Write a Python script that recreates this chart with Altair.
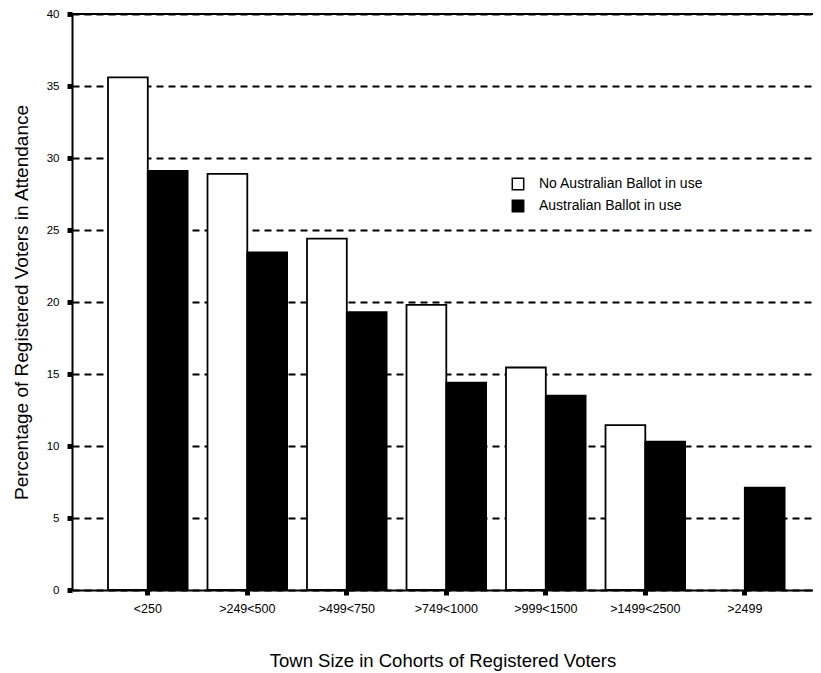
import altair as alt
import pandas as pd

categories = ["<250", ">249<500", ">499<750", ">749<1000", ">999<1500", ">1499<2500", ">2499"]
series = ["No Australian Ballot in use", "Australian Ballot in use"]
no_ballot = [35.6, 28.9, 24.4, 19.8, 15.45, 11.45, None]
ballot = [29.1, 23.45, 19.3, 14.4, 13.5, 10.3, 7.1]

rows = []
for c, a, b in zip(categories, no_ballot, ballot):
    if a is not None:
        rows.append({"cat": c, "series": series[0], "value": a})
    if b is not None:
        rows.append({"cat": c, "series": series[1], "value": b})
df = pd.DataFrame(rows)

FONT = "Liberation Sans"

bars = alt.Chart(df).mark_bar(stroke="black", strokeWidth=1.8).encode(
    x=alt.X("cat:N", sort=categories,
            scale=alt.Scale(paddingInner=0.2, paddingOuter=0.3236, align=0.559),
            axis=alt.Axis(title="Town Size in Cohorts of Registered Voters",
                          labelAngle=0, labelFontSize=12.5, labelPadding=7,
                          titleFontSize=18.5, titleFontWeight="normal", titlePadding=37,
                          tickSize=5, tickWidth=5, tickColor="black",
                          domainColor="black", domainWidth=2,
                          labelColor="black", titleColor="black")),
    xOffset=alt.XOffset("series:N", sort=series, scale=alt.Scale(domain=series, paddingInner=0)),
    y=alt.Y("value:Q", scale=alt.Scale(domain=[0, 40], nice=False),
            axis=alt.Axis(title="Percentage of Registered Voters in Attendance",
                          values=[0, 5, 10, 15, 20, 25, 30, 35, 40],
                          labelFontSize=11.5, labelPadding=8,
                          titleFontSize=19, titleFontWeight="normal", titlePadding=15,
                          tickSize=5, tickWidth=5, tickColor="black",
                          domainColor="black", domainWidth=2,
                          grid=True, gridColor="black", gridWidth=2, gridDash=[7, 5],
                          labelColor="black", titleColor="black")),
    color=alt.Color("series:N", sort=series,
                    scale=alt.Scale(domain=series, range=["white", "black"]),
                    legend=alt.Legend(title=None, orient="none", legendX=439, legendY=163,
                                      symbolType="square", symbolSize=130,
                                      symbolStrokeColor="black", symbolStrokeWidth=1.5,
                                      labelFontSize=14, labelColor="black", labelLimit=400,
                                      labelOffset=14, rowPadding=4, padding=0)),
)

top = alt.Chart(pd.DataFrame({"v": [40]})).mark_rule(color="black", strokeWidth=2).encode(
    y=alt.Y("v:Q")
)

chart = alt.layer(bars, top).properties(
    width=741, height=576,
    autosize=alt.AutoSizeParams(type="none"),
    padding={"left": 64, "top": 6, "right": 0, "bottom": 82},
).configure_view(stroke=None).configure(font=FONT)

chart.save("out.html", embed_options={"renderer": "svg", "actions": False})
